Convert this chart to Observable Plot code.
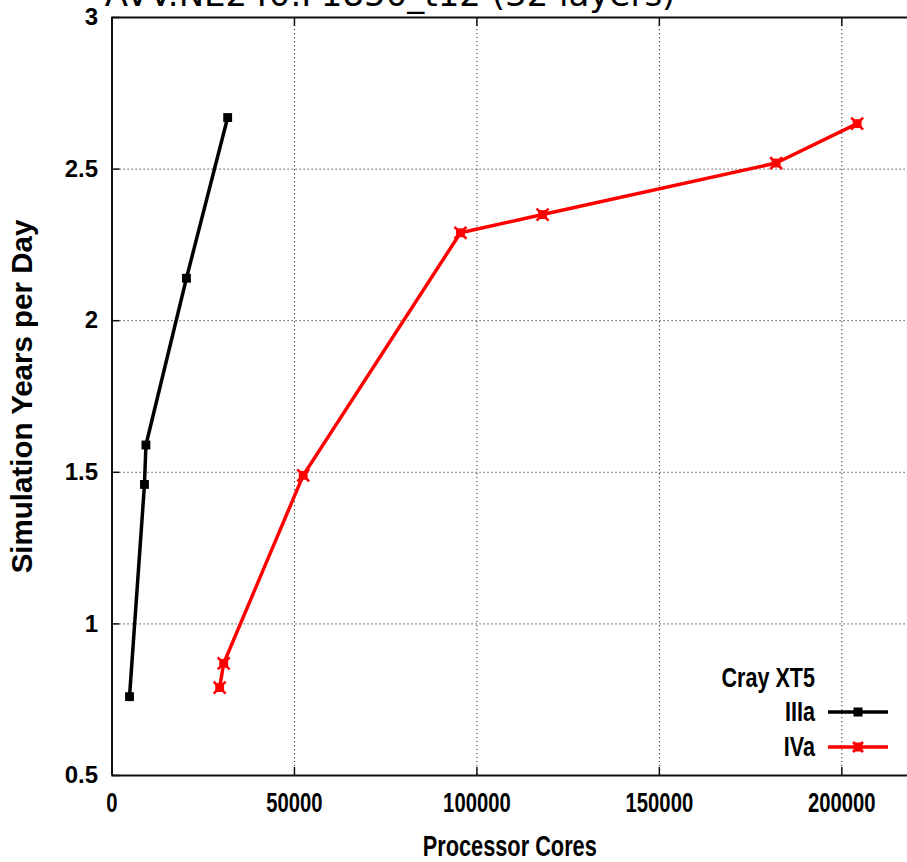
<!DOCTYPE html>
<html>
<head>
<meta charset="utf-8">
<script src="https://cdn.jsdelivr.net/npm/d3@7"></script>
<script src="https://cdn.jsdelivr.net/npm/@observablehq/plot@0.6"></script>
<style>
  html, body { margin: 0; padding: 0; background: #fff; }
  #wrap { position: relative; width: 907px; height: 862px; overflow: hidden; }
  #title { position: absolute; left: 0; width: 780px; text-align: center; top: -23px;
           font-family: "DejaVu Sans", sans-serif; font-size: 34px; line-height: 34px; color: #000; white-space: nowrap; }
  #legend { position: absolute; right: 0; top: 0; width: 907px; height: 862px; pointer-events: none; }
  .lg-row { position: absolute; display: flex; align-items: center; }
  .lg-label { font-family: "Liberation Sans", sans-serif; font-weight: bold; font-size: 28px;
              text-align: right; width: 200px; color: #000; transform: scaleX(0.77); transform-origin: right center; }
</style>
</head>
<body>
<div id="wrap">
  <div id="plot"></div>
  <div id="title">AVV.NE240.F1850_t12 (32 layers)</div>
  <div id="legend"></div>
</div>
<script>
// ---- data ----
const legendTitle = "Cray XT5";
const seriesNames = ["IIIa", "IVa"];
const seriesColors = ["#000000", "#ff0000"];

const coresIIIa = [4800, 8900, 9300, 20400, 31700];
const sypdIIIa  = [0.76, 1.46, 1.59, 2.14, 2.67];

const coresIVa = [29500, 30600, 52400, 95500, 118000, 182000, 204200];
const sypdIVa  = [0.79, 0.87, 1.49, 2.29, 2.35, 2.52, 2.65];

const xTicks = [0, 50000, 100000, 150000, 200000];
const yTicks = [0.5, 1, 1.5, 2, 2.5, 3];
const xGrid = [50000, 100000, 150000, 200000];
const yGrid = [1, 1.5, 2, 2.5];

const xLabel = "Processor Cores";
const yLabel = "Simulation Years per Day";

// ---- tables ----
const iiia = coresIIIa.map((c, i) => ({cores: c, sypd: sypdIIIa[i]}));
const iva = coresIVa.map((c, i) => ({cores: c, sypd: sypdIVa[i]}));

const narrow = "'Liberation Sans', Arial, sans-serif";   // condensed afterwards
const wide = "'Liberation Sans', sans-serif";

const chart = Plot.plot({
  width: 907,
  height: 862,
  marginLeft: 111.5,
  marginRight: 0,
  marginTop: 17,
  marginBottom: 87,
  style: {fontFamily: wide, background: "#fff", color: "#000", overflow: "hidden"},
  x: {domain: [0, 218000]},
  y: {domain: [0.5, 3]},
  marks: [
    Plot.gridX(xGrid, {stroke: "#000", strokeOpacity: 0.85, strokeWidth: 1, strokeDasharray: "1.2,2.8"}),
    Plot.gridY(yGrid, {stroke: "#000", strokeOpacity: 0.85, strokeWidth: 1, strokeDasharray: "1.2,2.8"}),
    Plot.ruleX([0], {stroke: "#111", strokeWidth: 2}),
    Plot.ruleY([0.5, 3], {stroke: "#111", strokeWidth: 2}),
    Plot.axisY({ticks: yTicks, text: null, tickSize: 8, dx: 8, stroke: "#111", strokeWidth: 1.5, label: null}),
    Plot.axisX({ticks: xTicks, text: null, tickSize: 8, dy: -8, stroke: "#111", strokeWidth: 1.5, label: null}),
    Plot.axisX({ticks: xTicks, anchor: "top", text: null, tickSize: 8, dy: 8, stroke: "#111", strokeWidth: 1.5, label: null}),
    Plot.axisY({ticks: yTicks, tickSize: 0, tickPadding: 14, tickFormat: d => String(d),
                fontSize: 24, fontWeight: "bold", fontFamily: wide, label: null}),
    Plot.axisX({ticks: xTicks, tickSize: 0, tickPadding: 17, tickFormat: d => String(d),
                fontSize: 27, fontWeight: "bold", fontFamily: narrow, label: null}),
    Plot.axisY({ticks: [], tickSize: 0, label: yLabel, labelAnchor: "center", labelArrow: "none", labelOffset: 101,
                fontSize: 29.5, fontWeight: "bold", fontFamily: wide}),
    Plot.axisX({ticks: [], tickSize: 0, label: xLabel, labelAnchor: "center", labelArrow: "none", labelOffset: 80,
                fontSize: 29, fontWeight: "bold", fontFamily: narrow}),
    Plot.line(iiia, {x: "cores", y: "sypd", stroke: seriesColors[0], strokeWidth: 3.5}),
    Plot.dot(iiia, {x: "cores", y: "sypd", symbol: "square", fill: seriesColors[0], r: 5}),
    Plot.line(iva, {x: "cores", y: "sypd", stroke: seriesColors[1], strokeWidth: 3.5}),
    Plot.dot(iva, {x: "cores", y: "sypd", symbol: "square", fill: seriesColors[1], r: 5}),
    Plot.dot(iva, {x: "cores", y: "sypd", symbol: "times", stroke: seriesColors[1], strokeWidth: 2.5, r: 5.5})
  ]
});
document.getElementById("plot").appendChild(chart);

// condense the narrow-styled texts (no narrow font installed)
chart.querySelectorAll("g[font-family]").forEach(g => {
  if (g.getAttribute("font-family").includes("Arial")) {
    g.querySelectorAll("text").forEach(t => {
      const L = t.getComputedTextLength();
      t.setAttribute("textLength", (L * 0.75).toFixed(1));
      t.setAttribute("lengthAdjust", "spacingAndGlyphs");
    });
  }
});

// ---- legend ----
const legend = document.getElementById("legend");
function row(top, label, color, symbol) {
  const r = document.createElement("div");
  r.className = "lg-row";
  r.style.left = "615px";
  r.style.top = top + "px";
  r.style.height = "30px";
  const t = document.createElement("div");
  t.className = "lg-label";
  t.textContent = label;
  r.appendChild(t);
  if (color) {
    const ns = "http://www.w3.org/2000/svg";
    const s = document.createElementNS(ns, "svg");
    s.setAttribute("width", "80");
    s.setAttribute("height", "30");
    s.style.marginLeft = "13px";
    const l = document.createElementNS(ns, "line");
    l.setAttribute("x1", 0); l.setAttribute("x2", 60); l.setAttribute("y1", 15); l.setAttribute("y2", 15);
    l.setAttribute("stroke", color); l.setAttribute("stroke-width", 3.5);
    s.appendChild(l);
    const sq = document.createElementNS(ns, "rect");
    sq.setAttribute("x", 25.5); sq.setAttribute("y", 10.5); sq.setAttribute("width", 9); sq.setAttribute("height", 9);
    sq.setAttribute("fill", color);
    s.appendChild(sq);
    if (symbol === "times") {
      const p = document.createElementNS(ns, "path");
      p.setAttribute("d", "M25,10L35,20M35,10L25,20");
      p.setAttribute("stroke", color); p.setAttribute("stroke-width", 2.5);
      s.appendChild(p);
    }
    r.appendChild(s);
  }
  legend.appendChild(r);
}
row(663, legendTitle, null);
row(697, seriesNames[0], seriesColors[0], "square");
row(732, seriesNames[1], seriesColors[1], "times");
</script>
</body>
</html>
